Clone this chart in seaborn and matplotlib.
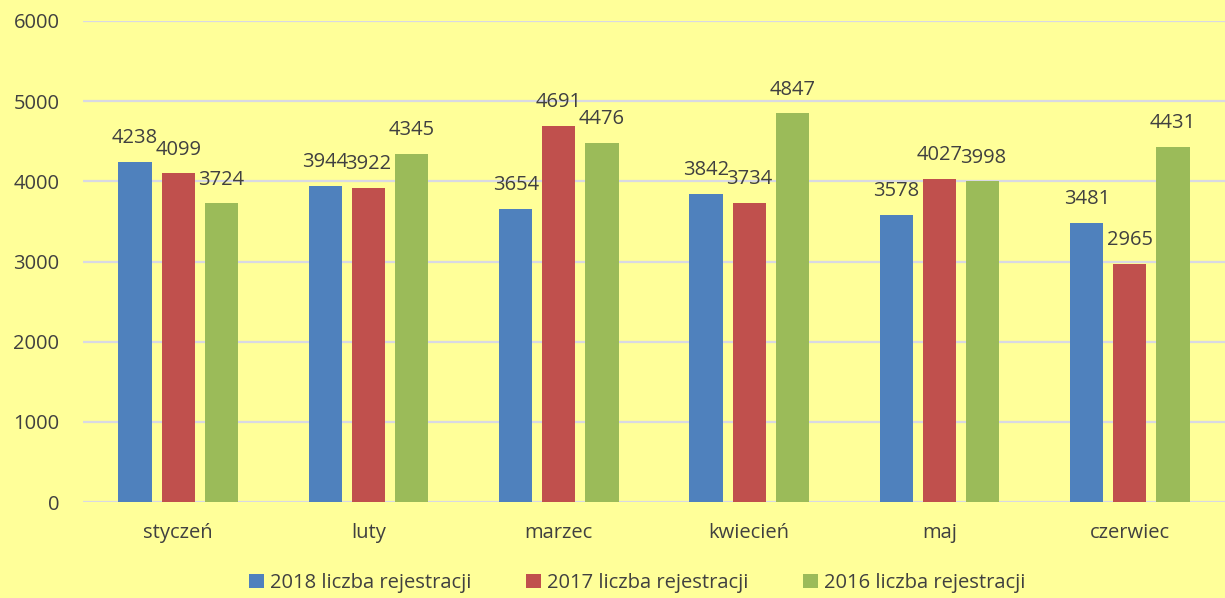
import pandas as pd
import matplotlib.pyplot as plt
import seaborn as sns

months = ["styczeń", "luty", "marzec", "kwiecień", "maj", "czerwiec"]
series = ["2018 liczba rejestracji", "2017 liczba rejestracji", "2016 liczba rejestracji"]
v2018 = [4238, 3944, 3654, 3842, 3578, 3481]
v2017 = [4099, 3922, 4691, 3734, 4027, 2965]
v2016 = [3724, 4345, 4476, 4847, 3998, 4431]
colors = ["#4F81BD", "#C0504D", "#9BBB59"]

df = pd.DataFrame({
    "miesiac": months * 3,
    "seria": [s for s in series for _ in months],
    "wartosc": v2018 + v2017 + v2016,
})

sns.set_style("white")
plt.rcParams["font.family"] = ["Open Sans", "DejaVu Sans"]
bg = "#FFFF99"
txt = "#404040"

fig = plt.figure(figsize=(12.25, 5.98), dpi=100, facecolor=bg)
ax = fig.add_axes([0.0678, 0.1605, 0.9322, 0.8044])
ax.set_facecolor(bg)

sns.barplot(data=df, x="miesiac", y="wartosc", hue="seria", hue_order=series,
            order=months, palette=colors, width=0.68, gap=0.23,
            saturation=1, linewidth=0, ax=ax, legend=True)

for cont in ax.containers:
    ax.bar_label(cont, padding=10, fontsize=14.5, color=txt)

ax.set_ylim(0, 6000)
ax.set_xlim(-0.5, 5.5)
ax.set_yticks(range(0, 6001, 1000))
ax.yaxis.grid(True, color="#D9D9E3", linewidth=1.6)
ax.set_axisbelow(True)
for s in ax.spines.values():
    s.set_visible(False)
ax.tick_params(axis="both", length=0, labelsize=14.5, colors=txt)
ax.tick_params(axis="y", pad=17)
ax.tick_params(axis="x", pad=15)
ax.set_xlabel("")
ax.set_ylabel("")

handles, labels = ax.get_legend_handles_labels()
ax.get_legend().remove()
fig.legend(handles, labels, loc="center", bbox_to_anchor=(0.52, 0.025), ncol=3,
           frameon=False, fontsize=14.5, labelcolor=txt, handlelength=0.75,
           handleheight=0.75, handletextpad=0.3, columnspacing=2.7,
           borderaxespad=0, borderpad=0)

fig.savefig("out.png", dpi=100, facecolor=bg)
